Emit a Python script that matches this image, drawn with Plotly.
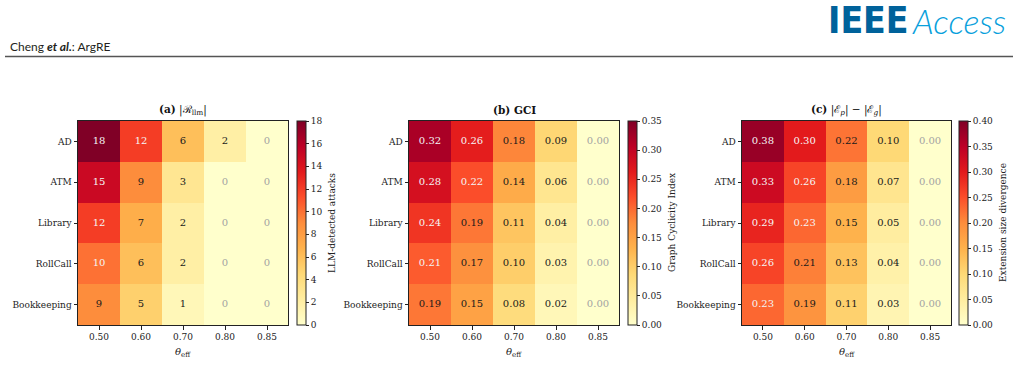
import plotly.graph_objects as go

# ---------------- data ----------------
datasets = ["AD", "ATM", "Library", "RollCall", "Bookkeeping"]
thetas = ["0.50", "0.60", "0.70", "0.80", "0.85"]

llm_attacks = [
    [18, 12, 6, 2, 0],
    [15, 9, 3, 0, 0],
    [12, 7, 2, 0, 0],
    [10, 6, 2, 0, 0],
    [9, 5, 1, 0, 0],
]
gci = [
    [0.32, 0.26, 0.18, 0.09, 0.00],
    [0.28, 0.22, 0.14, 0.06, 0.00],
    [0.24, 0.19, 0.11, 0.04, 0.00],
    [0.21, 0.17, 0.10, 0.03, 0.00],
    [0.19, 0.15, 0.08, 0.02, 0.00],
]
ext_div = [
    [0.38, 0.30, 0.22, 0.10, 0.00],
    [0.33, 0.26, 0.18, 0.07, 0.00],
    [0.29, 0.23, 0.15, 0.05, 0.00],
    [0.26, 0.21, 0.13, 0.04, 0.00],
    [0.23, 0.19, 0.11, 0.03, 0.00],
]

ticks_a = [0, 2, 4, 6, 8, 10, 12, 14, 16, 18]
ticks_b = [0.00, 0.05, 0.10, 0.15, 0.20, 0.25, 0.30, 0.35]
ticks_c = [0.00, 0.05, 0.10, 0.15, 0.20, 0.25, 0.30, 0.35, 0.40]

titles = ["<b>(a)</b> |ℛ<sub>llm</sub>|", "<b>(b) GCI</b>",
          "<b>(c)</b> |ℰ<sub><i>p</i></sub>| − |ℰ<sub><i>g</i></sub>|"]
cbar_titles = ["LLM-detected attacks", "Graph Cyclicity Index", "Extension size divergence"]

# ---------------- style ----------------
W, H = 1019, 375
YLORRD = ["#ffffcc", "#ffeda0", "#fed976", "#feb24c", "#fd8d3c",
          "#fc4e2a", "#e31a1c", "#bd0026", "#800026"]
cscale = [[i / 8, c] for i, c in enumerate(YLORRD)]
SERIF = "DejaVu Serif, serif"
AX = "#222222"


def fx(p):
    return p / W


def fy(p):
    return 1 - p / H


panels = [
    dict(z=llm_attacks, zmax=18, ticks=ticks_a, fmt="{:d}", tfmt="{:d}",
         left=78, right=288, cb=297, cbt=332),
    dict(z=gci, zmax=0.35, ticks=ticks_b, fmt="{:.2f}", tfmt="{:.2f}",
         left=409, right=619, cb=628, cbt=672),
    dict(z=ext_div, zmax=0.40, ticks=ticks_c, fmt="{:.2f}", tfmt="{:.2f}",
         left=742, right=951, cb=959, cbt=1003),
]
TOP, BOT = 121, 325

fig = go.Figure()
annotations = []
layout_axes = {}

for i, p in enumerate(panels):
    k = "" if i == 0 else str(i + 1)
    xa, ya = "x" + k, "y" + k
    fig.add_trace(go.Heatmap(
        z=p["z"], x=thetas, y=datasets, xaxis=xa, yaxis=ya,
        zmin=0, zmax=p["zmax"], colorscale=cscale, hoverinfo="skip",
        colorbar=dict(
            x=fx(p["cb"]), xanchor="left", xpad=0, ypad=0,
            y=fy((TOP + BOT) / 2), yanchor="middle",
            lenmode="pixels", len=BOT - TOP, thickness=9,
            outlinewidth=1, outlinecolor=AX,
            tickvals=p["ticks"], ticktext=[p["tfmt"].format(t) for t in p["ticks"]],
            ticks="outside", ticklen=3, tickwidth=1, tickcolor=AX,
            tickfont=dict(family=SERIF, size=9, color="#222"),
        ),
    ))
    # cell labels
    xs, ys, txt, cols = [], [], [], []
    for r, ds in enumerate(datasets):
        for c, th in enumerate(thetas):
            v = p["z"][r][c]
            xs.append(th)
            ys.append(ds)
            txt.append(p["fmt"].format(v))
            if v == 0:
                cols.append("#a3a3a3")
            elif v > 0.55 * p["zmax"]:
                cols.append("#f5f5f5")
            else:
                cols.append("#1a1a1a")
    fig.add_trace(go.Scatter(
        x=xs, y=ys, text=txt, mode="text", xaxis=xa, yaxis=ya,
        textfont=dict(family=SERIF, size=10, color=cols),
        hoverinfo="skip", showlegend=False,
    ))
    layout_axes["xaxis" + k] = dict(
        domain=[fx(p["left"]), fx(p["right"])], anchor=ya,
        range=[-0.5, 4.5], type="category", showgrid=False, zeroline=False,
        showline=True, mirror=True, linecolor=AX, linewidth=1,
        ticks="outside", ticklen=3.5, tickwidth=1, tickcolor=AX,
        tickfont=dict(family=SERIF, size=9, color="#222"), fixedrange=True,
    )
    layout_axes["yaxis" + k] = dict(
        domain=[fy(BOT), fy(TOP)], anchor=xa,
        range=[4.5, -0.5], type="category", showgrid=False, zeroline=False,
        showline=True, mirror=True, linecolor=AX, linewidth=1,
        ticks="outside", ticklen=3.5, tickwidth=1, tickcolor=AX,
        tickfont=dict(family=SERIF, size=9, color="#222"), fixedrange=True,
    )
    cx = (p["left"] + p["right"]) / 2
    annotations.append(dict(
        text=titles[i], x=fx(cx), y=fy(110), xref="paper", yref="paper",
        xanchor="center", yanchor="middle", showarrow=False,
        font=dict(family=SERIF, size=10.5, color="#111")))
    annotations.append(dict(
        text="<i>θ</i><sub>eff</sub>", x=fx(cx), y=fy(352), xref="paper", yref="paper",
        xanchor="center", yanchor="middle", showarrow=False,
        font=dict(family=SERIF, size=10, color="#222")))
    annotations.append(dict(
        text=cbar_titles[i], x=fx(p["cbt"]), y=fy((TOP + BOT) / 2),
        xref="paper", yref="paper", xanchor="center", yanchor="middle",
        textangle=-90, showarrow=False,
        font=dict(family=SERIF, size=9, color="#222")))

# header
annotations.append(dict(
    text="Cheng <b><i>et al.</i></b>: ArgRE", x=fx(8), y=fy(47),
    xref="paper", yref="paper", xanchor="left", yanchor="middle", showarrow=False,
    font=dict(family="Lato, Open Sans, sans-serif", size=12, color="#231f20")))
annotations.append(dict(
    text="<b>IEEE</b>", x=fx(911), y=fy(20),
    xref="paper", yref="paper", xanchor="right", yanchor="middle", showarrow=False,
    font=dict(family="Liberation Sans Narrow, DejaVu Sans Condensed, Roboto, sans-serif",
              size=37, color="#00629b")))
annotations.append(dict(
    text="<i>Access</i>", x=fx(910), y=fy(20),
    xref="paper", yref="paper", xanchor="left", yanchor="middle", showarrow=False,
    font=dict(family="Lato, Open Sans, sans-serif", size=34, color="#08a0dc", weight=300)))

fig.update_layout(
    width=W, height=H, margin=dict(l=0, r=0, t=0, b=0),
    paper_bgcolor="white", plot_bgcolor="white",
    annotations=annotations,
    shapes=[dict(type="line", xref="paper", yref="paper",
                 x0=fx(5), x1=fx(1013), y0=fy(56.5), y1=fy(56.5),
                 line=dict(color="#555555", width=1.5))],
    showlegend=False,
    **layout_axes,
)

fig.write_html("out.html")
